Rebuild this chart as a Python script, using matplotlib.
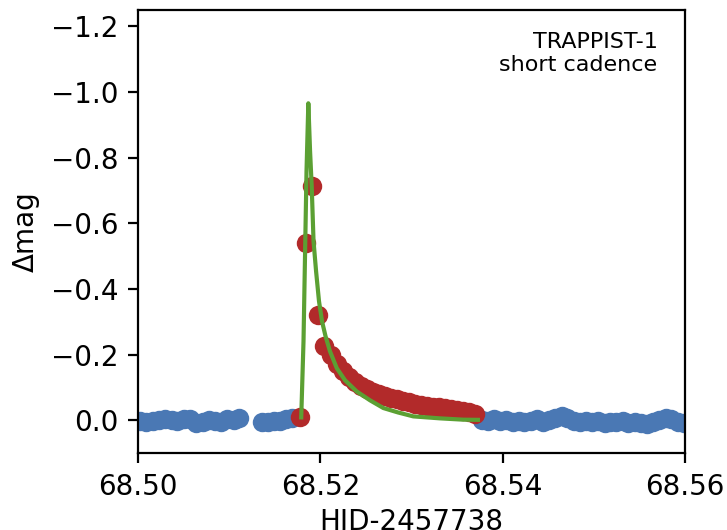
import matplotlib
matplotlib.use("Agg")

import matplotlib.pyplot as plt
from matplotlib.ticker import FormatStrFormatter

# quiescent points before / after the flare (blue)
quiet_t = [
    68.5002, 68.5009, 68.5016, 68.5023, 68.5030, 68.5037, 68.5043, 68.5050,
    68.5057, 68.5064, 68.5071, 68.5078, 68.5084, 68.5091, 68.5098, 68.5105,
    68.5111,
    68.5136, 68.5143, 68.5149, 68.5156, 68.5162, 68.5169,
    68.5377, 68.5384, 68.5391, 68.5397, 68.5404, 68.5411, 68.5418, 68.5424,
    68.5431, 68.5438, 68.5444, 68.5451, 68.5458, 68.5465, 68.5471, 68.5478,
    68.5485, 68.5491, 68.5498, 68.5505, 68.5512, 68.5518, 68.5525, 68.5532,
    68.5538, 68.5545, 68.5552, 68.5559, 68.5565, 68.5572, 68.5579, 68.5585,
    68.5592, 68.5599,
]
quiet_mag = [
    0.003, 0.006, 0.001, 0.000, -0.004, -0.002, 0.002, -0.005,
    -0.003, 0.008, 0.004, -0.001, 0.003, 0.005, -0.003, -0.002,
    -0.006,
    0.004, 0.005, 0.003, 0.002, -0.005, -0.008,
    -0.002, 0.003, -0.004, 0.002, -0.001, 0.005, 0.002, 0.006,
    0.001, -0.003, 0.004, -0.002, -0.008, -0.014, -0.006, 0.001,
    0.004, 0.002, 0.006, 0.003, 0.007, 0.004, 0.006, 0.002,
    0.008, 0.005, 0.009, 0.010, 0.004, -0.002, -0.007, -0.003,
    0.004, 0.008,
]

# points flagged as flare (red)
flare_t = [
    68.51777, 68.51837, 68.51909, 68.51978, 68.52044, 68.52112, 68.52180,
    68.52249, 68.52314, 68.52380, 68.52446, 68.52512, 68.52578, 68.52643,
    68.52709, 68.52775, 68.52841, 68.52907, 68.52973, 68.53038, 68.53104,
    68.53170, 68.53236, 68.53302, 68.53367, 68.53433, 68.53499, 68.53565,
    68.53631, 68.53697,
]
flare_mag = [
    -0.010, -0.540, -0.715, -0.322, -0.226, -0.198, -0.172,
    -0.150, -0.133, -0.118, -0.105, -0.095, -0.086, -0.079,
    -0.073, -0.068, -0.064, -0.059, -0.055, -0.051, -0.048,
    -0.045, -0.042, -0.040, -0.037, -0.034, -0.031, -0.028,
    -0.024, -0.020,
]

# flare model (green)
model_t = [
    68.51790, 68.51815, 68.51848, 68.51868, 68.51887, 68.51905, 68.51925,
    68.51953, 68.51985, 68.52018, 68.52057, 68.52106, 68.52180, 68.52271,
    68.52399, 68.52545, 68.52691, 68.52852, 68.53020, 68.53313, 68.53568,
    68.53729,
]
model_mag = [
    -0.009, -0.241, -0.759, -0.966, -0.820, -0.713, -0.546,
    -0.454, -0.363, -0.302, -0.256, -0.210, -0.159, -0.122,
    -0.088, -0.061, -0.0375, -0.024, -0.012, -0.006, -0.002,
    -0.0015,
]

x_ticks = [68.50, 68.52, 68.54, 68.56]
y_ticks = [-1.2, -1.0, -0.8, -0.6, -0.4, -0.2, 0.0]

fig = plt.figure(figsize=(3.635, 2.65), dpi=200)
ax = fig.add_axes([0.190, 0.145, 0.752, 0.836])

ax.plot(quiet_t, quiet_mag, "o", ms=7, mew=0, color="#4a78b4")
ax.plot(flare_t, flare_mag, "o", ms=7, mew=0, color="#b22a2a")
ax.plot(model_t, model_mag, "-", lw=1.5, color="#5ba033")

ax.set_xlim(68.50, 68.56)
ax.set_ylim(0.1, -1.25)
ax.set_xticks(x_ticks)
ax.xaxis.set_major_formatter(FormatStrFormatter("%.2f"))
ax.set_yticks(y_ticks)

ax.set_xlabel("HJD-2457738", labelpad=2.5)
ax.set_ylabel("Δmag")

ax.text(0.95, 0.95, "TRAPPIST-1\nshort cadence", transform=ax.transAxes,
        ha="right", va="top", fontsize=8)

fig.savefig("out.png", dpi=200)
